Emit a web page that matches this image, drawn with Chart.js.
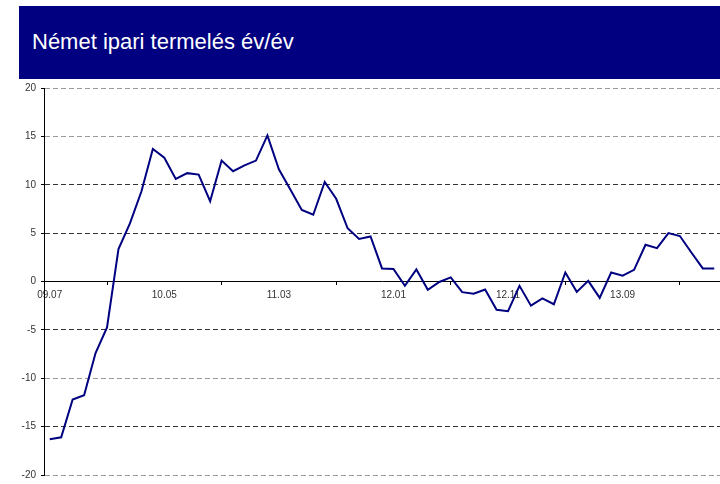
<!DOCTYPE html>
<html lang="hu">
<head>
<meta charset="utf-8">
<title>Német ipari termelés év/év</title>
<script src="https://cdn.jsdelivr.net/npm/chart.js@4.4.1/dist/chart.umd.min.js"></script>
<style>
    body { margin: 0; background: #fff; }
    #wrap { position: relative; width: 720px; height: 484px; }
    #header { position: absolute; left: 19px; top: 6px; right: 0; height: 73px; background: #000080; }
    #header h1 {
        position: absolute; left: 13px; top: 25px; margin: 0;
        font: 22px "Liberation Sans", Arial, sans-serif; line-height: 1;
        color: #fff; font-weight: normal; white-space: nowrap;
    }
    #chart { position: absolute; left: 0; top: 0; }
</style>
</head>
<body>
<div id="wrap">
    <canvas id="chart" width="720" height="484"></canvas>
    <div id="header"><h1>Német ipari termelés év/év</h1></div>
</div>
<script>
// Months, 2009.07 - 2014.05
const months = [
    '09.07', '09.08', '09.09', '09.10', '09.11', '09.12',
    '10.01', '10.02', '10.03', '10.04', '10.05', '10.06', '10.07', '10.08', '10.09', '10.10', '10.11', '10.12',
    '11.01', '11.02', '11.03', '11.04', '11.05', '11.06', '11.07', '11.08', '11.09', '11.10', '11.11', '11.12',
    '12.01', '12.02', '12.03', '12.04', '12.05', '12.06', '12.07', '12.08', '12.09', '12.10', '12.11', '12.12',
    '13.01', '13.02', '13.03', '13.04', '13.05', '13.06', '13.07', '13.08', '13.09', '13.10', '13.11', '13.12',
    '14.01', '14.02', '14.03', '14.04', '14.05'
];

// Industrial production, % year on year
const production = [
    -16.3, -16.1, -12.2, -11.75, -7.4, -4.75,
    3.35, 6.0, 9.3, 13.7, 12.8, 10.6, 11.2, 11.05, 8.3, 12.5, 11.4, 12.0,
    12.5, 15.1, 11.6, 9.5, 7.4, 6.9, 10.3, 8.55, 5.5, 4.4, 4.65, 1.35,
    1.3, -0.45, 1.25, -0.86, -0.05, 0.42, -1.1, -1.27, -0.83, -2.93, -3.07, -0.45,
    -2.5, -1.75, -2.35, 0.93, -1.07, 0.07, -1.69, 0.93, 0.6, 1.2, 3.8, 3.45,
    5.0, 4.7, 3.0, 1.35, 1.35
];

// Only every 10th month gets a label
const labelEvery = 10;

const yTicks = { min: -20, max: 20, step: 5 };
const lightGrid = [20, 15, -10, -20];

const tickFont = { family: '"Liberation Sans", Arial, sans-serif', size: 10 };

function gridColor(ctx) {
    const v = ctx.tick ? ctx.tick.value : null;
    if (v === 0) return 'rgba(0,0,0,0)';
    return lightGrid.includes(v) ? '#9a9a9a' : '#333';
}

new Chart(document.getElementById('chart'), {
    type: 'line',
    data: {
        labels: months,
        datasets: [{
            data: production,
            borderColor: '#000080',
            borderWidth: 2,
            pointRadius: 0,
            tension: 0,
            fill: false
        }]
    },
    options: {
        responsive: false,
        animation: false,
        devicePixelRatio: 1,
        layout: { padding: { top: 88, bottom: 9, left: 0, right: 0 } },
        plugins: {
            legend: { display: false },
            tooltip: { enabled: false }
        },
        scales: {
            x: {
                position: { y: 0 },
                offset: true,
                grid: {
                    offset: true,
                    drawOnChartArea: false,
                    drawTicks: true,
                    tickLength: 3,
                    tickColor: '#000'
                },
                border: { color: '#000', width: 1 },
                ticks: {
                    autoSkip: false,
                    maxRotation: 0,
                    padding: 5,
                    color: '#333',
                    font: tickFont,
                    callback: (v, i) => (i % labelEvery === 0 ? months[i] : null)
                }
            },
            y: {
                min: yTicks.min,
                max: yTicks.max,
                // fixed axis width, and let the layout padding alone set top/bottom
                afterFit: scale => {
                    scale.width = 44;
                    scale.paddingTop = 0;
                    scale.paddingBottom = 0;
                },
                grid: {
                    color: gridColor,
                    lineWidth: 1,
                    tickLength: 3,
                    tickColor: '#000',
                    tickBorderDash: []
                },
                border: { color: '#000', width: 1, dash: [5, 3] },
                ticks: {
                    stepSize: yTicks.step,
                    padding: 5,
                    color: '#333',
                    font: tickFont
                }
            }
        }
    }
});
</script>
</body>
</html>
